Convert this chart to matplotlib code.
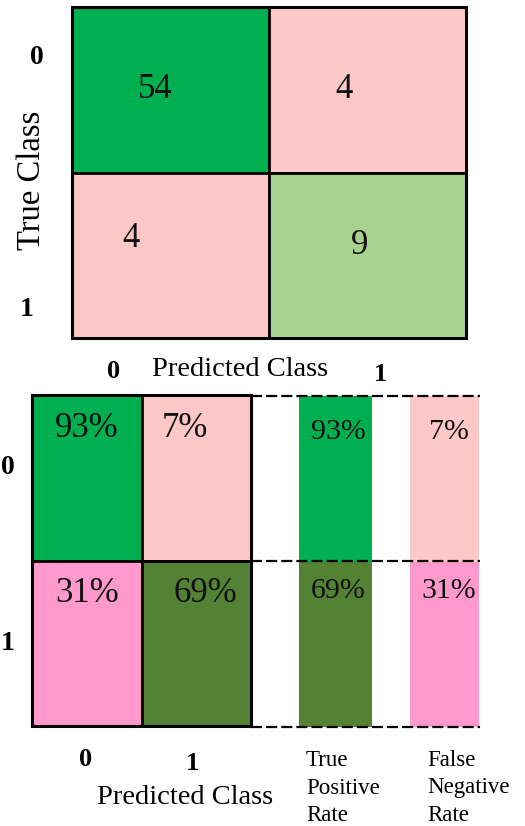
import matplotlib
matplotlib.use("Agg")
import matplotlib.pyplot as plt
from matplotlib.patches import Rectangle
from matplotlib.lines import Line2D

plt.rcParams['font.family'] = ['Liberation Serif', 'DejaVu Serif']

# ---- data ----
classes = ["0", "1"]
counts = [[54, 4],
          [4, 9]]
count_colors = [["#00AF50", "#FFC8C8"],
                ["#FFC8C8", "#A9D18E"]]
pct = [[93, 7],
       [31, 69]]
pct_colors = [["#00AF50", "#FFC8C8"],
              ["#FF99CC", "#548235"]]
tpr = [93, 69]
tpr_colors = ["#00AF50", "#548235"]
fnr = [7, 31]
fnr_colors = ["#FFC8C8", "#FF99CC"]
rate_labels = ["True\nPositive\nRate", "False\nNegative\nRate"]

W, H = 525, 826
fig = plt.figure(figsize=(W / 100, H / 100), dpi=100)


def add_ax(x0, y0, x1, y1):
    return fig.add_axes([x0 / W, 1 - y1 / H, (x1 - x0) / W, (y1 - y0) / H])


def fig_text(x, y, s, **kw):
    fig.text(x / W, 1 - y / H, s, **kw)


# ---- top count matrix ----
ax1 = add_ax(72, 7, 466, 338)
ax1.set_xlim(0, 2)
ax1.set_ylim(2, 0)
ax1.axis('off')
count_off = [[(-0.08, 0.0), (-0.12, 0.0)],
             [(-0.2, -0.1), (-0.04, -0.06)]]
for i in range(2):
    for j in range(2):
        ax1.add_patch(Rectangle((j, i), 1, 1, facecolor=count_colors[i][j],
                                edgecolor='black', linewidth=2.0, zorder=1))
        dx, dy = count_off[i][j]
        ax1.text(j + 0.5 + dx, i + 0.5 + dy, str(counts[i][j]), ha='center',
                 va='center', fontsize=25, color='#111111', zorder=3)
ax1.add_patch(Rectangle((0, 0), 2, 2, fill=False, edgecolor='black',
                        linewidth=2.2, zorder=2, clip_on=False))

fig_text(37, 57, classes[0], ha='center', va='center', fontsize=20, fontweight='bold')
fig_text(27, 310, classes[1], ha='center', va='center', fontsize=20, fontweight='bold')
fig_text(32, 180, "True Class", rotation=90, ha='center', va='center', fontsize=23.5)
fig_text(114, 371, classes[0], ha='center', va='center', fontsize=19, fontweight='bold')
fig_text(240, 370, "Predicted Class", ha='center', va='center', fontsize=20.5)
fig_text(380, 375, classes[1], ha='center', va='center', fontsize=19, fontweight='bold')

# ---- bottom percentage matrix ----
ax2 = add_ax(32, 395, 251, 726)
ax2.set_xlim(0, 2)
ax2.set_ylim(2, 0)
ax2.axis('off')
pct_dx = [[0.0, -0.1], [0.0, 0.08]]
for i in range(2):
    for j in range(2):
        ax2.add_patch(Rectangle((j, i), 1, 1, facecolor=pct_colors[i][j],
                                edgecolor='black', linewidth=2.0, zorder=1))
        ax2.text(j + 0.5 + pct_dx[i][j], i + 0.2, f"{pct[i][j]}%", ha='center',
                 va='center', fontsize=25, color='#111111', zorder=3)
ax2.add_patch(Rectangle((0, 0), 2, 2, fill=False, edgecolor='black',
                        linewidth=2.2, zorder=2, clip_on=False))

# ---- rate columns ----
ax3 = add_ax(299, 396, 372, 727)
ax4 = add_ax(410, 396, 479, 727)
for ax, vals, cols, dx in [(ax3, tpr, tpr_colors, 0.04), (ax4, fnr, fnr_colors, 0.06)]:
    ax.set_xlim(0, 1)
    ax.set_ylim(2, 0)
    ax.axis('off')
    ax.bar([0.5, 0.5], [1, 1], bottom=[0, 1], width=1.0, color=cols, linewidth=0)
    for i, v in enumerate(vals):
        ax.text(0.5 + dx, i + 0.22 - 0.04 * i, f"{v}%", ha='center', va='center',
                fontsize=21.5, color='#111111')

# dashed connector lines
for yy in [396, 561, 727]:
    fig.add_artist(Line2D([251 / W, 480 / W], [1 - yy / H, 1 - yy / H],
                          color='black', linestyle=(0, (5, 1.8)), linewidth=1.6))

fig_text(8, 468, classes[0], ha='center', va='center', fontsize=20, fontweight='bold')
fig_text(8, 643, classes[1], ha='center', va='center', fontsize=20, fontweight='bold')
fig_text(86, 760, classes[0], ha='center', va='center', fontsize=19, fontweight='bold')
fig_text(192, 763, classes[1], ha='center', va='center', fontsize=19, fontweight='bold')
fig_text(185, 798, "Predicted Class", ha='center', va='center', fontsize=20.5)
fig_text(306, 788, rate_labels[0], ha='left', va='center', fontsize=16.5, linespacing=1.42)
fig_text(427, 788, rate_labels[1], ha='left', va='center', fontsize=16.5, linespacing=1.42)

fig.savefig("out.png", dpi=100)
